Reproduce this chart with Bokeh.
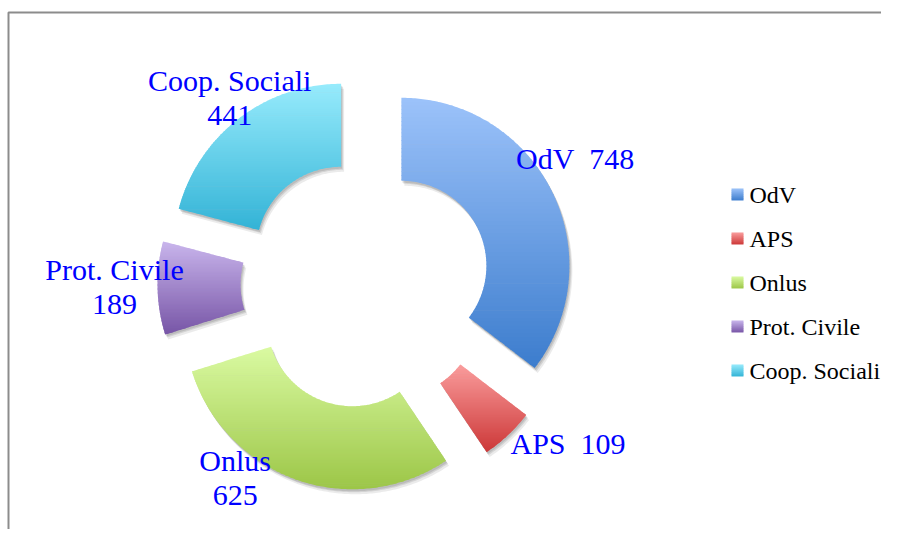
import math
from bokeh.plotting import figure
from bokeh.models import Range1d
from bokeh.core.properties import value
from bokeh.embed import file_html
from bokeh.resources import INLINE

# ---------------- data ----------------
categories = ["OdV", "APS", "Onlus", "Prot. Civile", "Coop. Sociali"]
values = [748, 109, 625, 189, 441]
label_texts = [["OdV\u00a0 748"], ["APS\u00a0 109"], ["Onlus", "625"], ["Prot. Civile", "189"], ["Coop. Sociali", "441"]]

# ---------------- styles / layout ----------------
top_colors = ["#9CC3FA", "#FA9C9C", "#DAFAA2", "#C9B5EC", "#97EBFC"]
bot_colors = ["#3C7CCD", "#CC3838", "#9CC647", "#7755A6", "#33B3D6"]
CX, CY = 365.0, 283.0      # pixel centre of the doughnut (screen coords, y down)
R_OUT, R_IN = 168.0, 85.0
EXPLODE = 40.0
label_angle_nudge = [-4.5, -8.5, 14.5, 0.5, 1.4]
label_radius = [244, 258, 234, 251, 230]
LINE_GAP = 35
LABEL_FONT = "Liberation Serif"

W, H = 881, 529
p = figure(width=W, height=H, output_backend="svg", toolbar_location=None,
           x_range=Range1d(0, W), y_range=Range1d(H, 0),
           min_border=0, min_border_left=0, min_border_right=0,
           min_border_top=0, min_border_bottom=0)
p.axis.visible = False
p.grid.visible = False
p.outline_line_color = None
p.background_fill_color = "white"
p.border_fill_color = "white"


def hex2rgb(h):
    h = h.lstrip("#")
    return tuple(int(h[i:i + 2], 16) for i in (0, 2, 4))


def mix(c1, c2, t):
    a, b = hex2rgb(c1), hex2rgb(c2)
    return "#%02x%02x%02x" % tuple(int(round(a[i] + (b[i] - a[i]) * t)) for i in range(3))


def clip(poly, yc, keep_ge):
    out = []
    n = len(poly)
    def inside(pt):
        return pt[1] >= yc if keep_ge else pt[1] <= yc
    def inter(a, b):
        t = (yc - a[1]) / (b[1] - a[1])
        return (a[0] + t * (b[0] - a[0]), yc)
    for i in range(n):
        cur, prev = poly[i], poly[i - 1]
        ci, pi = inside(cur), inside(prev)
        if ci:
            if not pi:
                out.append(inter(prev, cur))
            out.append(cur)
        elif pi:
            out.append(inter(prev, cur))
    return out


def gradient_bands(poly, c_top, c_bot, nb):
    ys = [pt[1] for pt in poly]
    y0, y1 = min(ys), max(ys)
    xs_l, ys_l, cols = [], [], []
    h = (y1 - y0) / nb
    for k in range(nb):
        a = y0 + k * h
        b = y0 + (k + 1) * h + (0.7 if k < nb - 1 else 0)
        part = clip(poly, a, True)
        if part:
            part = clip(part, b, False)
        if len(part) >= 3:
            xs_l.append([q[0] for q in part])
            ys_l.append([q[1] for q in part])
            cols.append(mix(c_top, c_bot, (k + 0.5) / nb))
    return xs_l, ys_l, cols


total = float(sum(values))
start = 0.0
slices = []
for i, v in enumerate(values):
    span = 360.0 * v / total
    a0, a1 = start, start + span
    mid = math.radians((a0 + a1) / 2)
    ox, oy = EXPLODE * math.sin(mid), -EXPLODE * math.cos(mid)
    npts = max(8, int(span * 1.5))
    poly = []
    for j in range(npts + 1):
        t = math.radians(a0 + (a1 - a0) * j / npts)
        poly.append((CX + ox + R_OUT * math.sin(t), CY + oy - R_OUT * math.cos(t)))
    for j in range(npts, -1, -1):
        t = math.radians(a0 + (a1 - a0) * j / npts)
        poly.append((CX + ox + R_IN * math.sin(t), CY + oy - R_IN * math.cos(t)))
    slices.append((i, poly, a0, a1))
    start = a1

# shadows
for (dx, dy, al) in [(1, 2, 0.10), (2, 3, 0.10), (3, 5, 0.08)]:
    p.patches(xs=[[q[0] + dx for q in s[1]] for s in slices],
              ys=[[q[1] + dy for q in s[1]] for s in slices],
              fill_color="black", fill_alpha=al, line_color=None)

# gradient slices
for (i, poly, a0, a1) in slices:
    xs_l, ys_l, cols = gradient_bands(poly, top_colors[i], bot_colors[i], 70)
    p.patches(xs=xs_l, ys=ys_l, fill_color=cols, line_color=None)

# data labels
lx, ly, lt = [], [], []
for (i, poly, a0, a1) in slices:
    ang = math.radians((a0 + a1) / 2 + label_angle_nudge[i])
    bx = CX + label_radius[i] * math.sin(ang)
    by = CY - label_radius[i] * math.cos(ang)
    lines = label_texts[i]
    n = len(lines)
    for k, s in enumerate(lines):
        lx.append(bx)
        ly.append(by + (k - (n - 1) / 2) * LINE_GAP)
        lt.append(s)
p.text(x=lx, y=ly, text=lt, text_font=value(LABEL_FONT), text_font_size="30px",
       text_color="#0000FF", text_align="center", text_baseline="middle")

# legend (manual)
LEG_X, LEG_Y0, LEG_DY, SQ = 737.0, 194.0, 44.0, 12.0
for i, c in enumerate(categories):
    yc = LEG_Y0 + i * LEG_DY
    sq = [(LEG_X - SQ / 2, yc - SQ / 2), (LEG_X + SQ / 2, yc - SQ / 2),
          (LEG_X + SQ / 2, yc + SQ / 2), (LEG_X - SQ / 2, yc + SQ / 2)]
    xs_l, ys_l, cols = gradient_bands(sq, top_colors[i], bot_colors[i], 6)
    p.patches(xs=xs_l, ys=ys_l, fill_color=cols, line_color=None)
p.text(x=[LEG_X + 12] * len(categories),
       y=[LEG_Y0 + i * LEG_DY for i in range(len(categories))],
       text=categories, text_font=value(LABEL_FONT), text_font_size="24px",
       text_color="black", text_align="left", text_baseline="middle")

# chart-area border (top and left edges visible)
p.line(x=[8, 8, W], y=[H, 12, 12], line_color="#8C8C8C", line_width=2)

open("out.html", "w").write(file_html(p, INLINE))
